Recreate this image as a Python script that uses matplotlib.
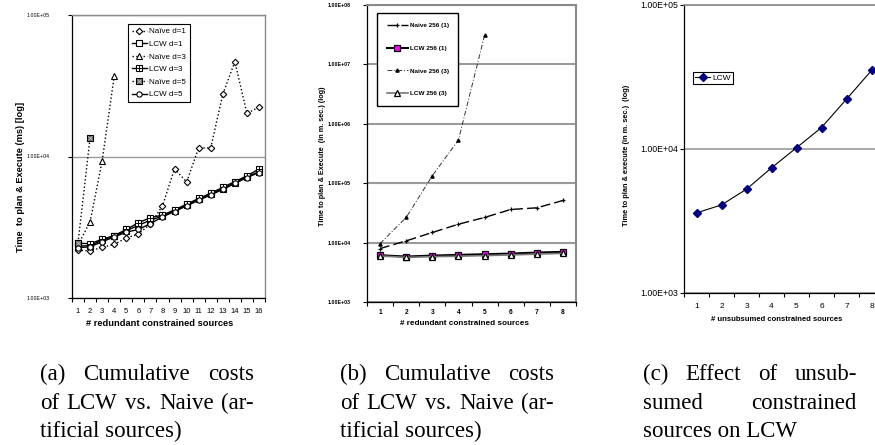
import matplotlib
matplotlib.use("Agg")
import matplotlib.pyplot as plt
from matplotlib.ticker import FixedLocator, FuncFormatter, NullLocator
from matplotlib.legend_handler import HandlerTuple

plt.rcParams['font.family'] = ['Liberation Sans', 'DejaVu Sans']

# ---- data (a): cumulative costs, artificial sources ----
x_a = list(range(1, 17))
naive_d1 = [2180, 2150, 2280, 2395, 2655, 2830, 3330, 4470, 8200, 6610, 11500, 11500, 27500, 46800, 20200, 22300]
lcw_d1 = [2330, 2340, 2570, 2740, 2990, 3260, 3550, 3800, 4140, 4540, 4980, 5430, 5940, 6530, 7190, 7800]
naive_d3 = [2370, 3460, 9290, 37100]
lcw_d3 = [2440, 2420, 2600, 2760, 3050, 3400, 3700, 3850, 4200, 4600, 5050, 5500, 6050, 6650, 7300, 8150]
naive_d5 = [2460, 13600]
lcw_d5 = [2270, 2300, 2500, 2700, 2920, 3050, 3350, 3750, 4080, 4480, 4900, 5350, 5850, 6450, 7100, 7700]

# ---- data (b) ----
x_b = list(range(1, 9))
naive256_1 = [7940, 10700, 14800, 20400, 26500, 36100, 38500, 51200]
lcw256_1 = [6130, 5820, 6050, 6210, 6370, 6540, 6800, 6980]
naive256_3 = [9640, 26500, 133700, 534000, 3.08e7]
lcw256_3 = [5950, 5650, 5800, 5900, 6050, 6200, 6400, 6600]

# ---- data (c) ----
x_c = list(range(1, 9))
lcw_c = [3600, 4090, 5260, 7400, 10200, 14100, 22200, 35100]

captions = {
    'a': ["(a) Cumulative costs", "of LCW vs. Naive (ar-", "tificial sources)"],
    'b': ["(b) Cumulative costs", "of LCW vs. Naive (ar-", "tificial sources)"],
    'c': ["(c) Effect of unsub-", "sumed constrained", "sources on LCW"],
}

W, H = 875, 445
fig = plt.figure(figsize=(W / 100, H / 100), dpi=100)


def px_axes(l, t, r, b):
    return fig.add_axes([l / W, 1 - b / H, (r - l) / W, (b - t) / H])


sci = FuncFormatter(lambda v, p: f"{v:.2E}")


def style_log(ax, n, ylo, yhi, ysize, xsize, bold, ypad, xpad, grid_lw):
    ax.set_yscale('log')
    ax.set_ylim(ylo, yhi)
    ax.set_xlim(0.5, n + 0.5)
    ax.yaxis.set_major_formatter(sci)
    ax.yaxis.set_minor_locator(NullLocator())
    ax.set_xticks(range(1, n + 1))
    ax.xaxis.set_minor_locator(FixedLocator([i + 0.5 for i in range(n + 1)]))
    ax.tick_params(axis='x', which='major', length=0, pad=xpad, labelsize=xsize)
    ax.tick_params(axis='x', which='minor', length=3, direction='out', width=0.8)
    ax.tick_params(axis='y', which='major', length=3, direction='out', width=0.8,
                   pad=ypad, labelsize=ysize)
    wt = 'bold' if bold else 'normal'
    for lab in ax.get_xticklabels() + ax.get_yticklabels():
        lab.set_fontweight(wt)
    ax.grid(True, axis='y', color='#9a9a9a', lw=grid_lw)
    ax.set_axisbelow(True)
    for s in ('top', 'right'):
        ax.spines[s].set_color('#8a8a8a')
        ax.spines[s].set_linewidth(grid_lw)
    for s in ('left', 'bottom'):
        ax.spines[s].set_color('black')
        ax.spines[s].set_linewidth(0.9)


# ================= panel (a) =================
ax1 = px_axes(72, 15, 265, 298)
style_log(ax1, 16, 1e3, 1e5, 3.8, 5.5, False, 13, 7, 1.0)
ms = 3.8
h1, = ax1.plot(x_a, naive_d1, ':', color='black', lw=1, marker='D', ms=3.3, mfc='white', mec='black', mew=0.8)
h2, = ax1.plot(x_a, lcw_d1, '-', color='black', lw=1, marker='s', ms=ms, mfc='white', mec='black', mew=0.8)
h3, = ax1.plot(x_a[:4], naive_d3, ':', color='black', lw=1, marker='^', ms=4.2, mfc='white', mec='black', mew=0.8)
h4a, = ax1.plot(x_a, lcw_d3, '-', color='black', lw=1, marker='s', ms=ms, mfc='white', mec='black', mew=0.8)
h4b, = ax1.plot(x_a, lcw_d3, ls='none', marker='+', ms=ms, mec='black', mew=0.7)
h5a, = ax1.plot(x_a[:2], naive_d5, ':', color='black', lw=1, marker='s', ms=ms + 0.4, mfc='#6a6a6a', mec='black', mew=0.8)
h5b, = ax1.plot(x_a[:2], naive_d5, ls='none', marker='x', ms=ms - 0.8, mec='#d0d0d0', mew=0.5)
h6, = ax1.plot(x_a, lcw_d5, '-', color='black', lw=1, marker='o', ms=ms, mfc='white', mec='black', mew=0.8)
leg = ax1.legend([h1, h2, h3, (h4a, h4b), (h5a, h5b), h6],
                 ["Naïve d=1", "LCW d=1", "Naïve d=3", "LCW d=3", "Naïve d=5", "LCW d=5"],
                 handler_map={tuple: HandlerTuple(ndivide=1, pad=0)},
                 loc='upper left', bbox_to_anchor=(0.29, 0.968), borderaxespad=0,
                 fontsize=5.8, labelspacing=0.62, handlelength=1.9, handletextpad=0.3,
                 borderpad=0.45, fancybox=False, framealpha=1, edgecolor='black')
leg.get_frame().set_linewidth(0.8)
ax1.set_ylabel("Time  to plan & Execute (ms) [log]", fontsize=6.7, fontweight='bold')
ax1.yaxis.set_label_coords(-0.246, 0.429)
ax1.set_xlabel("# redundant constrained sources", fontsize=6.7, fontweight='bold')
ax1.xaxis.set_label_coords(0.456, -0.074)

# ================= panel (b) =================
ax2 = px_axes(367, 5, 576, 302)
style_log(ax2, 8, 1e3, 1e8, 3.8, 4.8, True, 9, 5, 1.5)
g1, = ax2.plot(x_b, naive256_1, color='black', lw=1.0, ls=(0, (7, 3)), marker='+', ms=3, mew=0.9)
g2, = ax2.plot(x_b, lcw256_1, color='black', lw=1.5, marker='s', ms=4, mfc='#ff00ff', mec='black', mew=0.9)
g3, = ax2.plot(x_b[:5], naive256_3, color='#333333', lw=0.7, ls=(0, (5, 2, 1, 2)), marker='^', ms=2.3, mfc='black', mec='black')
g4, = ax2.plot(x_b, lcw256_3, color='#777777', lw=1.2, marker='^', ms=4.3, mfc='white', mec='black', mew=0.9)
leg2 = ax2.legend([g1, g2, g3, g4], ["Naive 256 (1)", "LCW 256 (1)", "Naive 256 (3)", "LCW 256 (3)"],
                  loc='upper left', bbox_to_anchor=(0.048, 0.973), borderaxespad=0,
                  prop={'size': 4.6, 'weight': 'bold'}, labelspacing=2.7, handlelength=3.4,
                  handletextpad=0.2, borderpad=1.5, fancybox=False, framealpha=1, edgecolor='black')
leg2.get_frame().set_linewidth(1.0)
ax2.set_ylabel("Time to plan & Execute  (in m. sec.) (log)", fontsize=5.2, fontweight='bold')
ax2.yaxis.set_label_coords(-0.196, 0.49)
ax2.set_xlabel("# redundant constrained sources", fontsize=5.9, fontweight='bold')
ax2.xaxis.set_label_coords(0.466, -0.061)

# ================= panel (c) =================
ax3 = px_axes(684, 5, 884, 293)
style_log(ax3, 8, 1e3, 1e5, 6.3, 6.0, False, 1.5, 7, 1.2)
k1, = ax3.plot(x_c, lcw_c, color='black', lw=0.8, marker='D', ms=3.6, mfc='#000080', mec='#000080')
leg3 = ax3.legend([k1], ["LCW"], loc='upper left', bbox_to_anchor=(0.045, 0.767), borderaxespad=0,
                  fontsize=6, handlelength=1.8, handletextpad=0.3, borderpad=0.25,
                  fancybox=False, framealpha=1, edgecolor='black')
leg3.get_frame().set_linewidth(0.8)
ax3.set_ylabel("Time to plan & execute (in m. sec.)  (log)", fontsize=5.3, fontweight='bold')
ax3.yaxis.set_label_coords(-0.2725, 0.477)
ax3.set_xlabel("# unsubsumed constrained sources", fontsize=5.5, fontweight='bold')
ax3.xaxis.set_label_coords(0.465, -0.08)

# ================= justified captions =================
renderer = fig.canvas.get_renderer()
cap_font = dict(family=['Liberation Serif', 'DejaVu Serif'], size=16.5)
baselines = [380, 409, 437]
cap_w = 214


def caption(x0, lines):
    for i, line in enumerate(lines):
        y = 1 - baselines[i] / H
        words = line.split(' ')
        justify = i < len(lines) - 1 and len(words) > 1
        if not justify:
            fig.text(x0 / W, y, line, va='baseline', ha='left', **cap_font)
            continue
        texts = [fig.text(0, y, w, va='baseline', ha='left', **cap_font) for w in words]
        widths = [t.get_window_extent(renderer).width for t in texts]
        gap = (cap_w - sum(widths)) / (len(words) - 1)
        x = x0
        for t, wd in zip(texts, widths):
            t.set_x(x / W)
            x += wd + gap


caption(40, captions['a'])
caption(340, captions['b'])
caption(643, captions['c'])

fig.savefig('out.png', dpi=100)
